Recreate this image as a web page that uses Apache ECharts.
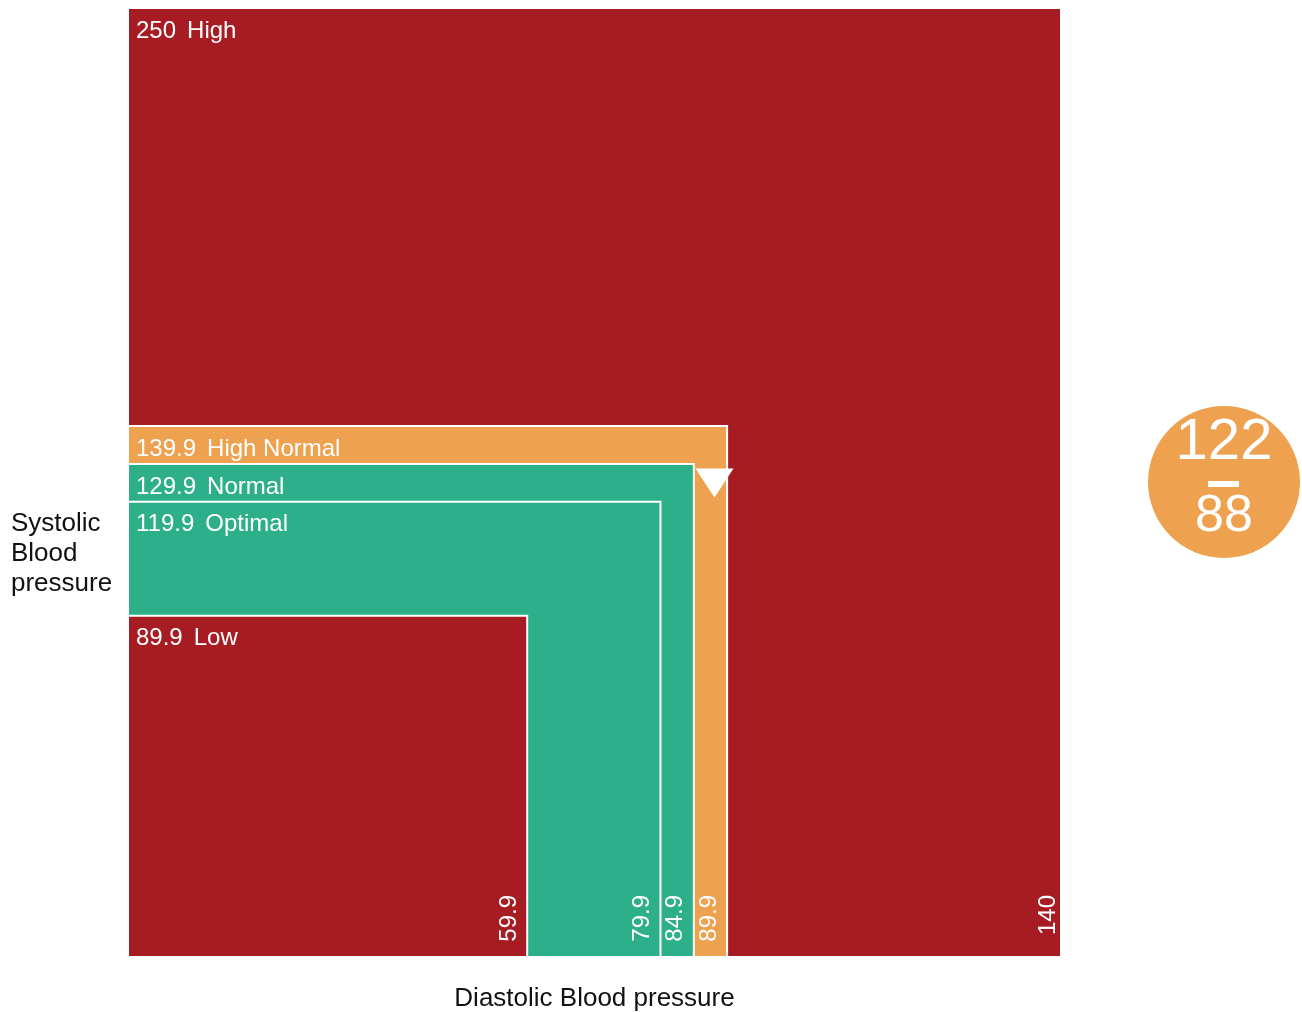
<!DOCTYPE html>
<html>
<head>
<meta charset="utf-8">
<title>Blood pressure chart</title>
<script src="https://cdn.jsdelivr.net/npm/echarts@6/dist/echarts.min.js"></script>
<style>
  html, body { margin: 0; padding: 0; background: #fff; }
  #chart { width: 1302px; height: 1012px; }
</style>
</head>
<body>
<div id="chart"></div>
<script>
// zones, drawn from the outside in
const zoneNames = ["High", "High Normal", "Normal", "Optimal", "Low"];
const systolicMax = [250, 139.9, 129.9, 119.9, 89.9];
const diastolicMax = [140, 89.9, 84.9, 79.9, 59.9];
const zoneColors = ["#A71C22", "#EEA250", "#2DAF8A", "#2DAF8A", "#A71C22"];

// the measured reading: [diastolic, systolic]
const reading = [88, 122];
const readingColor = "#EEA250";

const FONT = "'Liberation Sans', Arial, sans-serif";

const zoneData = zoneNames.map((n, i) => [diastolicMax[i], systolicMax[i], n]);

const chart = echarts.init(document.getElementById("chart"));

const option = {
  backgroundColor: "#fff",
  animation: false,
  grid: { left: 128, right: 241, top: 8, bottom: 55, outerBoundsMode: "none" },
  xAxis: {
    type: "value",
    min: 0,
    max: 140,
    name: "Diastolic Blood pressure",
    nameLocation: "middle",
    nameGap: 29,
    nameTextStyle: { fontSize: 26, color: "#111", fontFamily: FONT },
    axisLine: { show: false },
    axisTick: { show: false },
    axisLabel: { show: false },
    splitLine: { show: false },
  },
  yAxis: {
    type: "value",
    min: 0,
    max: 250,
    axisLine: { show: false },
    axisTick: { show: false },
    axisLabel: { show: false },
    splitLine: { show: false },
  },
  series: [
    {
      type: "custom",
      data: zoneData,
      z: 2,
      renderItem: function (params, api) {
        const i = params.dataIndex;
        const p0 = api.coord([0, 0]);
        const p1 = api.coord([api.value(0), api.value(1)]);
        const w = p1[0] - p0[0];
        const h = p0[1] - p1[1];
        // outer box label sits closer to the edge
        const edgePad = i === 0 ? 1 : 6;
        return {
          type: "group",
          children: [
            {
              type: "rect",
              shape: { x: p0[0], y: p1[1], width: w, height: h },
              style: { fill: zoneColors[i], stroke: "#fff", lineWidth: 2 },
            },
            {
              type: "text",
              x: p0[0] + 8,
              y: p1[1] + 11,
              style: {
                text: "{v|" + systolicMax[i] + "}{n|" + zoneNames[i] + "}",
                fill: "#fff",
                font: "24px " + FONT,
                align: "left",
                verticalAlign: "top",
                rich: {
                  v: { fontSize: 24, fontFamily: FONT, fill: "#fff" },
                  n: { fontSize: 24, fontFamily: FONT, fill: "#fff", padding: [0, 0, 0, 11] },
                },
              },
            },
            {
              type: "text",
              x: p1[0] - edgePad,
              y: p0[1] - 62,
              rotation: Math.PI / 2,
              style: {
                text: String(diastolicMax[i]),
                fill: "#fff",
                font: "24px " + FONT,
                align: "right",
                verticalAlign: "bottom",
              },
            },
          ],
        };
      },
    },
    {
      type: "scatter",
      data: [reading],
      z: 5,
      symbol: "triangle",
      symbolRotate: 180,
      symbolSize: [38, 29],
      symbolOffset: [0, -11],
      itemStyle: { color: "#fff", opacity: 1 },
    },
  ],
  graphic: [
    {
      type: "text",
      left: 11,
      top: 509,
      style: {
        text: "Systolic\nBlood\npressure",
        font: "26px " + FONT,
        lineHeight: 30,
        fill: "#111",
      },
    },
    {
      type: "group",
      x: 1224,
      y: 482,
      children: [
        { type: "circle", shape: { cx: 0, cy: 0, r: 76 }, style: { fill: readingColor } },
        {
          type: "text",
          x: 0,
          y: -39,
          style: { text: String(reading[1]), font: "58px " + FONT, fill: "#fff", align: "center", verticalAlign: "middle" },
        },
        { type: "rect", shape: { x: -16, y: -1, width: 31, height: 6 }, style: { fill: "#fff" } },
        {
          type: "text",
          x: 0,
          y: 35,
          style: { text: String(reading[0]), font: "52px " + FONT, fill: "#fff", align: "center", verticalAlign: "middle" },
        },
      ],
    },
  ],
};

chart.setOption(option);
</script>
</body>
</html>
